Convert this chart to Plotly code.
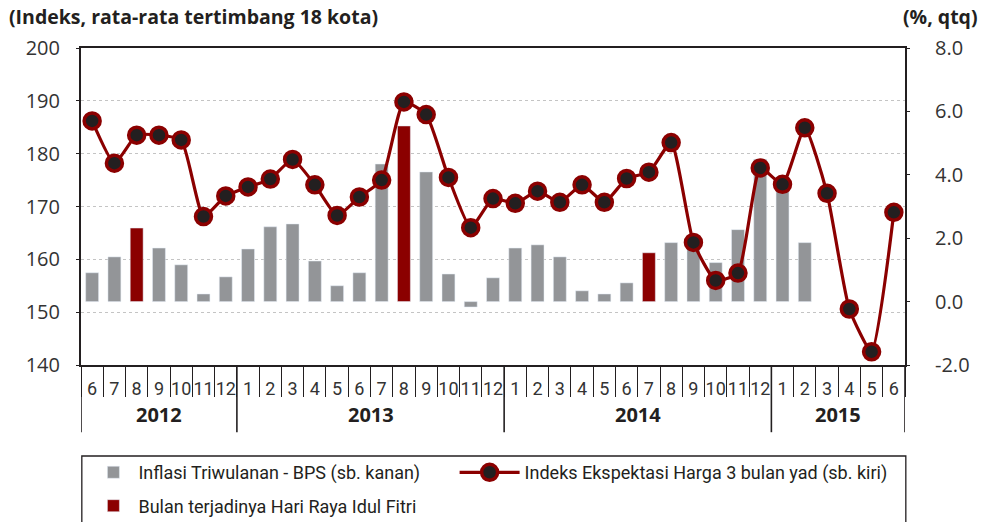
import plotly.graph_objects as go

# ---------------- data ----------------
YEARS = ["2012", "2013", "2014", "2015"]
MONTHS_2012 = [6, 7, 8, 9, 10, 11, 12]
MONTHS_2013 = [1, 2, 3, 4, 5, 6, 7, 8, 9, 10, 11, 12]
MONTHS_2014 = [1, 2, 3, 4, 5, 6, 7, 8, 9, 10, 11, 12]
MONTHS_2015 = [1, 2, 3, 4, 5, 6]
IDUL_FITRI = ["2012-8", "2013-8", "2014-7"]

# Indeks Ekspektasi Harga 3 bulan yad (left axis)
EKSPEKTASI = [186.2, 178.2, 183.5, 183.5, 182.6, 168.1, 172.0,
              173.7, 175.2, 178.9, 174.1, 168.3, 171.8, 175.0, 189.8, 187.4, 175.5, 166.0, 171.5,
              170.6, 172.9, 170.8, 174.1, 170.8, 175.3, 176.5, 182.1, 163.2, 156.0, 157.4, 177.3,
              174.2, 184.9, 172.5, 150.6, 142.5, 168.9]

# Inflasi Triwulanan - BPS (right axis, %, qtq)
INFLASI = [0.91, 1.41, 2.32, 1.69, 1.16, 0.24, 0.78,
           1.66, 2.36, 2.45, 1.28, 0.50, 0.91, 4.34, 5.54, 4.09, 0.87, -0.17, 0.75,
           1.69, 1.79, 1.41, 0.34, 0.24, 0.59, 1.54, 1.86, 1.70, 1.23, 2.27, 4.49,
           3.70, 1.86, None, None, None, None]

LEFT_TICKS = [140, 150, 160, 170, 180, 190, 200]
RIGHT_TICKS = [-2, 0, 2, 4, 6, 8]
RIGHT_TICKTEXT = ["-2.0", "0.0", "2.0", "4.0", "6.0", "8.0"]

NAME_INFL = "Inflasi Triwulanan - BPS (sb. kanan)"
NAME_EKSP = "Indeks Ekspektasi Harga 3 bulan yad (sb. kiri)"
NAME_IDUL = "Bulan terjadinya Hari Raya Idul Fitri"
TITLE_LEFT = "(Indeks, rata-rata tertimbang 18 kota)"
TITLE_RIGHT = "(%, qtq)"

# ---------------- styles ----------------
DARK = "#231f20"
GRAY = "#939598"
RED = "#8b0000"
TXT = "#333333"
NARROW = "Roboto, sans-serif"
SANS = "Open Sans, sans-serif"

month_groups = [MONTHS_2012, MONTHS_2013, MONTHS_2014, MONTHS_2015]
cats, ticktext = [], []
group_bounds = [-0.5]
year_centers = []
for y, ms in zip(YEARS, month_groups):
    start = len(cats)
    for m in ms:
        cats.append(f"{y}-{m}")
        ticktext.append(str(m))
    end = len(cats) - 1
    year_centers.append((start + end) / 2)
    group_bounds.append(end + 0.5)

infl_gray = [None if c in IDUL_FITRI else v for c, v in zip(cats, INFLASI)]
infl_red = [v if c in IDUL_FITRI else None for c, v in zip(cats, INFLASI)]

fig = go.Figure()
fig.add_trace(go.Bar(x=cats, y=infl_gray, name=NAME_INFL, marker_color=GRAY,
                     width=0.58, yaxis="y", legend="legend", legendgroup="g1"))
fig.add_trace(go.Scatter(x=cats, y=EKSPEKTASI, name=NAME_EKSP, yaxis="y2",
                         mode="lines+markers", legend="legend2",
                         line=dict(color=RED, width=3.2, shape="spline", smoothing=0.5),
                         marker=dict(size=16, color=DARK, line=dict(color=RED, width=3.5))))
fig.add_trace(go.Bar(x=cats, y=infl_red, name=NAME_IDUL, marker_color=RED,
                     width=0.58, yaxis="y", legend="legend", legendgroup="g2"))

shapes = []
for b in group_bounds:
    shapes.append(dict(type="line", xref="x", yref="paper", x0=b, x1=b, y0=0, y1=-0.212,
                       line=dict(color=DARK, width=1.6)))
# legend frame
shapes.append(dict(type="rect", xref="paper", yref="paper", x0=0.001, x1=1.001,
                   y0=-0.287, y1=-0.8, line=dict(color=DARK, width=1.3)))

annotations = []
for yl, xc in zip(YEARS, year_centers):
    annotations.append(dict(text="<b>" + yl + "</b>", x=xc, xref="x", y=-0.155, yref="paper",
                            showarrow=False, yanchor="middle", xanchor="center",
                            font=dict(family=SANS, size=20, color=DARK)))
annotations.append(dict(text="<b>" + TITLE_LEFT + "</b>", x=-0.0898, xref="paper",
                        y=1.098, yref="paper", xanchor="left", yanchor="middle",
                        showarrow=False, font=dict(family=SANS, size=19.5, color=DARK)))
annotations.append(dict(text="<b>" + TITLE_RIGHT + "</b>", x=1.091, xref="paper",
                        y=1.098, yref="paper", xanchor="right", yanchor="middle",
                        showarrow=False, font=dict(family=SANS, size=19.5, color=DARK)))

legend_font = dict(family=NARROW, size=18, color=DARK)
fig.update_layout(
    width=981, height=522,
    margin=dict(l=81, r=76, t=48, b=157, autoexpand=False),
    paper_bgcolor="white", plot_bgcolor="white",
    barmode="overlay",
    showlegend=True,
    legend=dict(orientation="v", x=0.009, xanchor="left", y=-0.281, yanchor="top",
                font=legend_font, bgcolor="rgba(0,0,0,0)", borderwidth=0,
                itemwidth=40, traceorder="grouped", tracegroupgap=7),
    legend2=dict(orientation="v", x=0.4534, xanchor="left", y=-0.281, yanchor="top",
                 font=legend_font, bgcolor="rgba(0,0,0,0)", borderwidth=0,
                 itemwidth=60),
    xaxis=dict(type="category", categoryorder="array", categoryarray=cats,
               tickmode="array", tickvals=cats, ticktext=ticktext, tickangle=0,
               tickson="boundaries", ticks="outside", ticklen=30, tickwidth=1.3,
               tickcolor=DARK, ticklabelstandoff=6, automargin=False,
               showline=True, mirror=True, linecolor=DARK, linewidth=2,
               showgrid=False, range=[-0.5, len(cats) - 0.5],
               tickfont=dict(family=NARROW, size=18, color=TXT)),
    yaxis=dict(side="right", range=[-2, 8], tickmode="array", tickvals=RIGHT_TICKS,
               ticktext=RIGHT_TICKTEXT, showgrid=False, zeroline=False, automargin=False,
               showline=True, linecolor=DARK, linewidth=2,
               ticks="outside", ticklen=3, tickcolor=DARK, ticklabelstandoff=21,
               tickfont=dict(family=SANS, size=20, color=TXT)),
    yaxis2=dict(overlaying="y", side="left", range=[140, 200], tickmode="array",
                tickvals=LEFT_TICKS, showgrid=True, gridcolor="#c4c4c4", griddash="dot",
                gridwidth=1.4, zeroline=False, showline=True, linecolor=DARK, linewidth=2,
                ticks="outside", ticklen=3, tickcolor=DARK, ticklabelstandoff=12,
                automargin=False, tickfont=dict(family=SANS, size=20, color=TXT)),
    shapes=shapes,
    annotations=annotations,
)

fig.write_html("out.html", config={"displayModeBar": False},
               post_script="document.body.style.margin='0px';document.body.style.overflow='hidden';")
